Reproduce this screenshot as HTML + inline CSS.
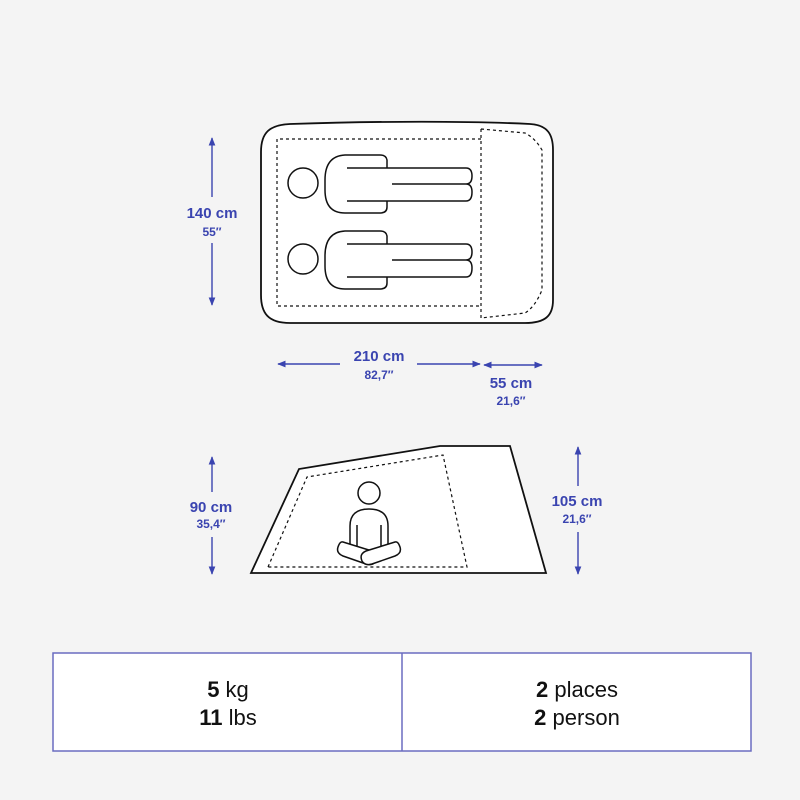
<!DOCTYPE html>
<html><head><meta charset="utf-8"><style>
html,body{margin:0;padding:0;background:#f4f4f4;}
svg{display:block}
</style></head><body>
<svg width="800" height="800" viewBox="0 0 800 800" xmlns="http://www.w3.org/2000/svg" font-family="Liberation Sans, sans-serif">
<rect width="800" height="800" fill="#f4f4f4"/>
<defs>
<marker id="ah" viewBox="0 0 10 10" refX="9" refY="5" markerWidth="6" markerHeight="6" orient="auto-start-reverse"><path d="M0,1 L10,5 L0,9 z" fill="#3a44b0"/></marker>
</defs>
<!-- top view tent -->
<path d="M290,124 C380,121 470,121 530,124 C548,125 553,135 553,150 L553,300 C553,316 545,323 525,323 L290,323 C268,323 261,313 261,295 L261,152 C261,132 270,125 290,124 Z" fill="#fff" stroke="#111" stroke-width="1.8"/>
<path d="M481,139 L277,139 L277,306 L481,306" fill="none" stroke="#111" stroke-width="1.2" stroke-dasharray="3,3"/>
<path d="M481,129 L481,318 M481,129 L525,133 Q535,138 542,150 L542,290 Q535,307 525,313 L481,318" fill="none" stroke="#111" stroke-width="1.2" stroke-dasharray="3,3"/>
<g fill="#fff" stroke="#111" stroke-width="1.5">
 <g id="p1">
  <circle cx="303" cy="183" r="15"/>
  <path d="M387,168 L387,160 Q386,155 380,155 L345,155 Q325,156 325,180 L325,190 Q325,213 345,213 L380,213 Q387,213 387,207 L387,201"/>
  <path d="M347,168 L466,168 Q472,168 472,176 Q472,184 466,184 Q472,184 472,192 Q472,201 466,201 L347,201" fill="#fff"/>
  <line x1="392" y1="184" x2="466" y2="184"/>
 </g>
 <use href="#p1" transform="translate(0,76)"/>
</g>
<!-- arrows -->
<g stroke="#3a44b0" stroke-width="1.4" fill="none">
<line x1="212" y1="197" x2="212" y2="138" marker-end="url(#ah)"/>
<line x1="212" y1="243" x2="212" y2="305" marker-end="url(#ah)"/>
<line x1="340" y1="364" x2="278" y2="364" marker-end="url(#ah)"/>
<line x1="417" y1="364" x2="480" y2="364" marker-end="url(#ah)"/>
<line x1="484" y1="365" x2="542" y2="365" marker-start="url(#ah)" marker-end="url(#ah)"/>
<line x1="212" y1="492" x2="212" y2="457" marker-end="url(#ah)"/>
<line x1="212" y1="537" x2="212" y2="574" marker-end="url(#ah)"/>
<line x1="578" y1="486" x2="578" y2="447" marker-end="url(#ah)"/>
<line x1="578" y1="532" x2="578" y2="574" marker-end="url(#ah)"/>
</g>
<g fill="#3a44b0" text-anchor="middle" font-weight="bold">
<text x="212" y="218" font-size="15">140 cm</text>
<text x="212" y="236" font-size="12">55′′</text>
<text x="379" y="361" font-size="15">210 cm</text>
<text x="379" y="379" font-size="12">82,7′′</text>
<text x="511" y="388" font-size="15">55 cm</text>
<text x="511" y="405" font-size="12">21,6′′</text>
<text x="211" y="512" font-size="15">90 cm</text>
<text x="211" y="528" font-size="12">35,4′′</text>
<text x="577" y="506" font-size="15">105 cm</text>
<text x="577" y="523" font-size="12">21,6′′</text>
</g>
<!-- side view -->
<path d="M251,573 L299,469 L440,446 L510,446 L546,573 Z" fill="#fff" stroke="#111" stroke-width="1.8"/>
<path d="M268,567 L307,477 L443,455 L467,567 Z" fill="none" stroke="#111" stroke-width="1.2" stroke-dasharray="3,3"/>
<g fill="#fff" stroke="#111" stroke-width="1.5">
<circle cx="369" cy="493" r="11"/>
<path d="M350,549 L350,526 Q350,509 369,509 Q388,509 388,526 L388,549"/>
<line x1="357" y1="525" x2="357" y2="546"/>
<line x1="381" y1="525" x2="381" y2="546"/>
<path d="M343,542 L372,551 Q379,554 376,561 Q373,566 366,564 L343,556 Q336,553 338,547 Q340,541 343,542 Z"/>
<path d="M395,542 L366,551 Q359,554 362,561 Q365,566 372,564 L395,556 Q402,553 400,547 Q398,541 395,542 Z"/>
</g>
<!-- table -->
<rect x="53" y="653" width="698" height="98" fill="#fff" stroke="#6a6cc0" stroke-width="1.5"/>
<line x1="402" y1="653" x2="402" y2="751" stroke="#6a6cc0" stroke-width="1.5"/>
<g font-size="22" fill="#111" text-anchor="middle">
<text x="228" y="697"><tspan font-weight="bold">5</tspan> kg</text>
<text x="228" y="725"><tspan font-weight="bold">11</tspan> lbs</text>
<text x="577" y="697"><tspan font-weight="bold">2</tspan> places</text>
<text x="577" y="725"><tspan font-weight="bold">2</tspan> person</text>
</g>
</svg>
</body></html>
